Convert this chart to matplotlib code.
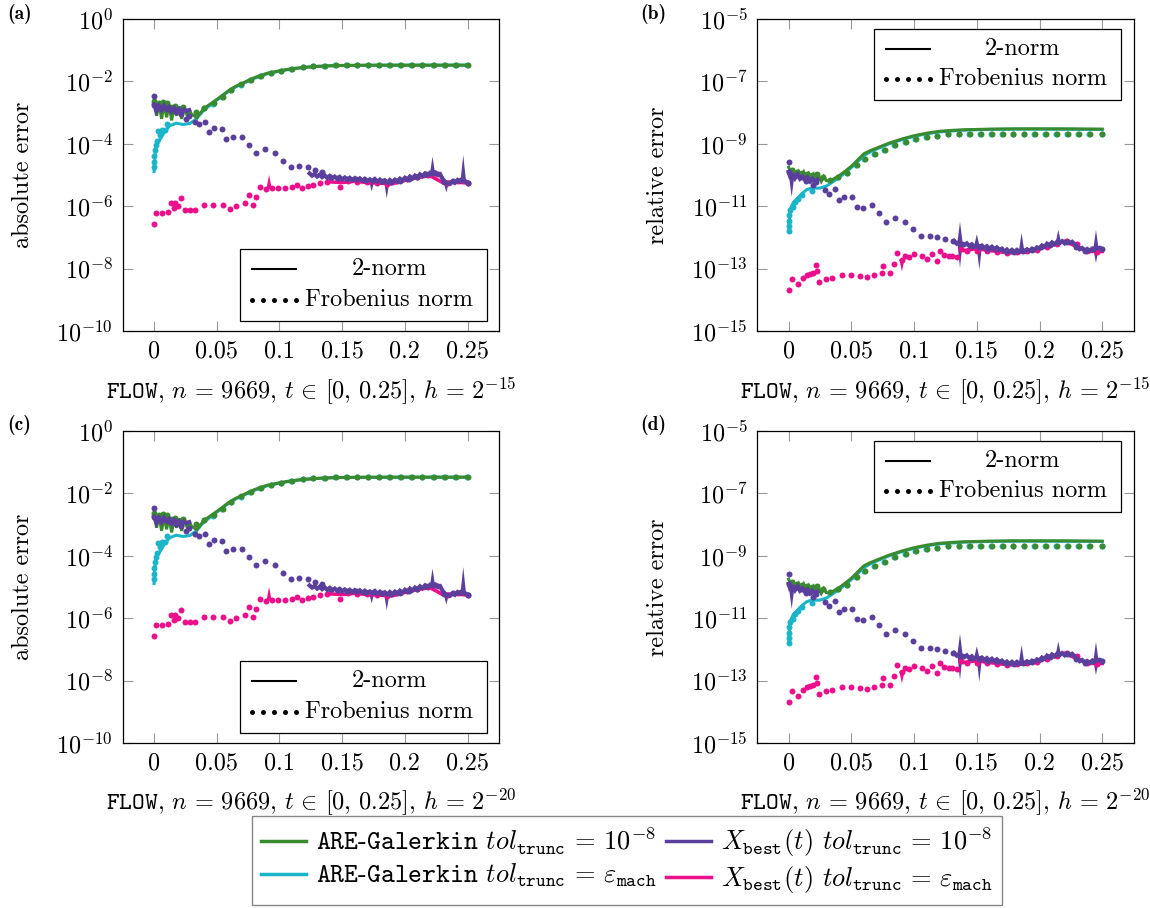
import numpy as np
import matplotlib
matplotlib.use("Agg")
import matplotlib.pyplot as plt
from matplotlib.lines import Line2D
from matplotlib.patches import Rectangle
from matplotlib.ticker import FixedLocator, NullLocator, FuncFormatter

nan = np.nan

# error values are stored as log10 exponents, times in [0, 0.25]

# ---------------- absolute error ----------------
# ARE-Galerkin, tol_trunc = 1e-8
abs_g2_t = [0, 0.002, 0.004, 0.006, 0.008, 0.010, 0.012, 0.014, 0.016, 0.018, 0.020, 0.022,
            0.024, 0.026, 0.028, 0.030, 0.034, 0.04, 0.045, 0.05, 0.055, 0.06, 0.065, 0.07,
            0.075, 0.08, 0.09, 0.1, 0.11, 0.12, 0.13, 0.14, 0.15, 0.17, 0.2, 0.25]
abs_g2 = [-2.65, -3.1, -2.7, -3.2, -2.72, -3.15, -2.75, -3.25, -2.8, -3.1, -2.8, -3.2,
          -2.85, -3.05, -2.95, -3.05, -3.16, -2.86, -2.72, -2.58, -2.43, -2.28, -2.16, -2.07,
          -1.97, -1.88, -1.74, -1.66, -1.59, -1.55, -1.52, -1.5, -1.49, -1.48, -1.48, -1.48]
abs_gF_t = [0, 0.004, 0.0072, 0.0107, 0.0136, 0.0168, 0.0231, 0.0271, 0.0332, 0.0401,
            0.0478, 0.055, 0.0617, 0.0697, 0.0771, 0.0851, 0.0936, 0.1016, 0.110, 0.119,
            0.127, 0.136, 0.145, 0.1535, 0.162, 0.1707, 0.1795, 0.188, 0.1968, 0.2056,
            0.214, 0.223, 0.232, 0.2407, 0.25]
abs_gF = [-2.63, -2.69, -2.66, -2.69, -2.81, -2.79, -2.81, -2.94, -2.97, -2.84,
          -2.69, -2.49, -2.26, -2.09, -1.96, -1.83, -1.72, -1.66, -1.59, -1.55,
          -1.52, -1.50, -1.49, -1.49, -1.48, -1.48, -1.48, -1.48, -1.48, -1.48,
          -1.48, -1.48, -1.48, -1.49, -1.49]

# ARE-Galerkin, tol_trunc = eps_mach
abs_c2_t = [0, 0.0005, 0.001, 0.002, 0.0045, 0.0085, 0.0125, 0.0178, 0.023, 0.0285,
            0.0338, 0.039, 0.045, 0.05, 0.055, 0.06, 0.065, 0.07, 0.08, 0.09,
            0.1, 0.11, 0.12, 0.13, 0.14, 0.15, 0.2, 0.25]
abs_c2 = [-4.89, -4.5, -4.2, -3.99, -3.88, -3.61, -3.42, -3.34, -3.38, -3.35,
          -3.2, -2.95, -2.75, -2.6, -2.45, -2.3, -2.18, -2.08, -1.9, -1.76,
          -1.67, -1.6, -1.55, -1.52, -1.5, -1.49, -1.48, -1.48]
abs_cF_t = [0, 0, 0, 0.0005, 0.0012, 0.002, 0.0032, 0.0045, 0.0061, 0.0085,
            0.0107, 0.0396, 0.0473, 0.0545, 0.0612, 0.0692, 0.0766, 0.0846, 0.0931, 0.1011,
            0.1095, 0.1185, 0.1265, 0.1355, 0.1445, 0.153, 0.1615, 0.1702, 0.179, 0.1875,
            0.1963, 0.2051, 0.2135, 0.2225, 0.2315, 0.2402, 0.2495]
abs_cF = [-4.75, -4.58, -4.4, -4.2, -4.05, -3.92, -3.6, -3.72, -3.55, -3.55,
          -3.38, -2.86, -2.71, -2.51, -2.28, -2.11, -1.97, -1.84, -1.73, -1.67,
          -1.6, -1.55, -1.52, -1.5, -1.49, -1.49, -1.48, -1.48, -1.48, -1.48,
          -1.48, -1.48, -1.48, -1.48, -1.48, -1.49, -1.49]

# X_best(t), tol_trunc = 1e-8 (short burst at the start, noisy tail at the end)
abs_p2_t = [0, 0.002, 0.004, 0.006, 0.008, 0.010, 0.012, 0.014, 0.016, 0.018,
            0.020, 0.022, 0.024, 0.026, 0.028, 0.03,
            0.124, 0.126, 0.128, 0.130, 0.132, 0.134, 0.136, 0.138, 0.140, 0.142,
            0.144, 0.146, 0.148, 0.150, 0.152, 0.154, 0.156, 0.158, 0.160, 0.162,
            0.164, 0.166, 0.168, 0.170, 0.172, 0.174, 0.176, 0.178, 0.180, 0.182,
            0.184, 0.186, 0.188, 0.190, 0.192, 0.194, 0.196, 0.198, 0.200, 0.202,
            0.204, 0.206, 0.208, 0.210, 0.212, 0.214, 0.216, 0.218, 0.220, 0.222,
            0.224, 0.226, 0.228, 0.230, 0.232, 0.234, 0.236, 0.238, 0.240, 0.242,
            0.244, 0.246, 0.248, 0.250]
abs_p2 = [-2.75, -2.95, -2.8, -2.92, -2.78, -2.9, -2.82, -2.95, -2.85, -2.93,
          -2.88, -2.97, -2.9, -2.95, -2.92, nan,
          -4.95, -5.02, -4.97, -5.05, -4.99, -5.07, -5.01, -5.09, -5.03, -5.11,
          -5.05, -5.12, -5.06, -5.14, -5.08, -5.15, -5.09, -5.16, -5.1, -5.17,
          -5.11, -5.18, -5.12, -5.19, -5.14, -5.2, -5.13, -5.21, -5.15, -5.23,
          -5.17, -5.24, -5.16, -5.23, -5.15, -5.21, -5.12, -5.18, -5.09, -5.15,
          -5.05, -5.11, -5.02, -5.08, -4.98, -5.04, -4.95, -5.01, -4.93, -4.98,
          -4.92, -4.99, -4.97, -5.12, -5.22, -5.26, -5.28, -5.2, -5.25, -5.16,
          -5.21, -5.13, -5.2, -5.24]
abs_pF_t = [0, 0, 0.0032, 0.0072, 0.0112, 0.0138, 0.0178, 0.0218, 0.0253, 0.0279,
            0.0324, 0.0359, 0.0407, 0.0439, 0.0479, 0.0545, 0.0577, 0.063, 0.0705, 0.0758,
            0.0809, 0.0888, 0.0968, 0.103, 0.109, 0.1157, 0.1229, 0.128, 0.1335,
            0.14, 0.147, 0.154, 0.161, 0.168, 0.175, 0.182, 0.189, 0.196, 0.203,
            0.21, 0.217, 0.224, 0.231, 0.238, 0.245, 0.25]
abs_pF = [-2.47, -2.76, -2.79, -2.81, -2.87, -2.92, -2.97, -3.03, -3.22, -3.10,
          -3.29, -3.35, -3.29, -3.61, -3.48, -3.54, -3.86, -3.79, -3.77, -4.04,
          -4.29, -4.17, -4.31, -4.54, -4.73, -4.71, -4.73, -4.84, -4.89,
          -5.05, -5.1, -5.12, -5.12, -5.15, -5.17, -5.2, -5.22, -5.18, -5.12,
          -5.05, -4.97, -4.95, -5.22, -5.2, -5.15, -5.25]
# isolated outliers of the 2-norm (time, level of the band, tip)
abs_p_spk_t = [0.1735, 0.1855, 0.222, 0.233, 0.2465]
abs_p_spk_base = [-5.18, -5.22, -4.97, -5.24, -5.16]
abs_p_spk_tip = [-5.53, -5.75, -4.41, -5.56, -4.36]

# X_best(t), tol_trunc = eps_mach
abs_m2_t = [0.14, 0.15, 0.16, 0.17, 0.18, 0.19, 0.20, 0.21, 0.22, 0.23, 0.24, 0.25]
abs_m2 = [-5.22, -5.24, -5.2, -5.24, -5.26, -5.28, -5.17, -5.08, -5.02, -5.24, -5.22, -5.26]
abs_mF_t = [0, 0.0019, 0.0064, 0.0112, 0.0133, 0.0157, 0.0165, 0.0191, 0.0218, 0.0245,
            0.0285, 0.0324, 0.0396, 0.047, 0.055, 0.0603, 0.0657, 0.0723, 0.0758, 0.079,
            0.0816, 0.0848, 0.0896, 0.0944, 0.099, 0.1043, 0.1096, 0.1136, 0.1176, 0.1229,
            0.127, 0.132, 0.1375, 0.148, 0.155, 0.162, 0.17, 0.178, 0.186, 0.194,
            0.202, 0.21, 0.218, 0.226, 0.234, 0.242, 0.25]
abs_mF = [-6.57, -6.23, -6.21, -6.20, -5.91, -6.05, -5.89, -5.99, -5.75, -6.12,
          -6.12, -6.12, -5.97, -5.97, -5.95, -6.10, -5.99, -5.89, -5.64, -5.96,
          -5.72, -5.37, -5.46, -5.42, -5.42, -5.42, -5.37, -5.32, -5.43, -5.35,
          -5.32, -5.27, -5.21, -5.37, -5.2, -5.22, -5.22, -5.25, -5.28, -5.2,
          -5.12, -5.05, -5.0, -4.98, -5.25, -5.2, -5.25]
abs_m_spk_t = [0.0917]
abs_m_spk_base = [-5.44]
abs_m_spk_tip = [-5.0]

# ---------------- relative error ----------------
rel_g2_t = [0, 0.002, 0.004, 0.006, 0.008, 0.010, 0.012, 0.014, 0.016, 0.018, 0.020, 0.022,
            0.024, 0.026, 0.028, 0.030, 0.033, 0.036, 0.04, 0.045, 0.05, 0.055, 0.06, 0.065,
            0.07, 0.08, 0.09, 0.1, 0.11, 0.12, 0.13, 0.14, 0.16, 0.18, 0.2, 0.22, 0.25]
rel_g2 = [-9.75, -9.95, -9.85, -10.0, -9.88, -10.02, -9.9, -10.08, -9.95, -10.1, -9.98, -10.15,
          -10.02, -10.2, -10.05, -10.18, -10.2, -10.12, -10.03, -9.88, -9.72, -9.52, -9.32, -9.22,
          -9.14, -8.98, -8.85, -8.74, -8.66, -8.6, -8.57, -8.55, -8.53, -8.52, -8.52, -8.52, -8.53]
rel_gF_t = [0.0024, 0.0064, 0.0104, 0.0143, 0.0183, 0.0228, 0.0276, 0.033, 0.0396,
            0.0468, 0.0542, 0.0608, 0.0688, 0.0768, 0.0847, 0.0933, 0.1012, 0.110, 0.1185,
            0.1273, 0.136, 0.1445, 0.153, 0.1618, 0.1706, 0.179, 0.1878, 0.1963, 0.2051,
            0.2136, 0.2224, 0.2311, 0.2402, 0.25]
rel_gF = [-9.85, -9.89, -9.92, -9.96, -9.99, -9.96, -10.05, -10.15, -10.05,
          -9.94, -9.69, -9.49, -9.32, -9.19, -9.05, -8.93, -8.85, -8.79, -8.74,
          -8.70, -8.68, -8.68, -8.67, -8.67, -8.67, -8.67, -8.67, -8.67, -8.67,
          -8.68, -8.68, -8.69, -8.69, -8.7]

rel_c2_t = [0, 0.001, 0.0037, 0.0064, 0.0104, 0.0144, 0.0184, 0.025, 0.0303, 0.0343,
            0.0397, 0.045, 0.05, 0.055, 0.06, 0.065, 0.07, 0.08, 0.09, 0.1,
            0.11, 0.12, 0.13, 0.14, 0.16, 0.18, 0.2, 0.25]
rel_c2 = [-11.81, -11.12, -10.88, -10.77, -10.6, -10.47, -10.42, -10.42, -10.35, -10.24,
          -10.1, -9.93, -9.76, -9.57, -9.38, -9.26, -9.17, -9.0, -8.87, -8.76,
          -8.68, -8.62, -8.59, -8.56, -8.54, -8.53, -8.53, -8.54]
rel_cF_t = [0, 0, 0, 0.0005, 0.001, 0.0032, 0.005, 0.0077, 0.0104, 0.0184,
            0.0391, 0.0463, 0.0537, 0.0603, 0.0683, 0.0763, 0.0842, 0.0928, 0.1007, 0.1095,
            0.118, 0.1268, 0.1355, 0.144, 0.1525, 0.1613, 0.1701, 0.1785, 0.1873, 0.1958,
            0.2046, 0.2131, 0.2219, 0.2306, 0.2397, 0.2495]
rel_cF = [-11.81, -11.63, -11.46, -11.28, -11.12, -11.03, -10.85, -10.77, -10.63, -10.51,
          -10.05, -9.94, -9.69, -9.49, -9.32, -9.19, -9.05, -8.93, -8.85, -8.79,
          -8.74, -8.70, -8.68, -8.68, -8.67, -8.67, -8.67, -8.67, -8.67, -8.67,
          -8.67, -8.68, -8.68, -8.69, -8.69, -8.7]

rel_p2_t = [0, 0.0012, 0.0024, 0.0036, 0.005, 0.007, 0.009, 0.011, 0.013, 0.015,
            0.017, 0.019, 0.021, 0.023, 0.025,
            0.132, 0.134, 0.136, 0.138, 0.140, 0.142, 0.144, 0.146, 0.148, 0.150,
            0.152, 0.154, 0.156, 0.158, 0.160, 0.162, 0.164, 0.166, 0.168, 0.170,
            0.172, 0.174, 0.176, 0.178, 0.180, 0.182, 0.184, 0.186, 0.188, 0.190,
            0.192, 0.194, 0.196, 0.198, 0.200, 0.202, 0.204, 0.206, 0.208, 0.210,
            0.212, 0.214, 0.216, 0.218, 0.220, 0.222, 0.224, 0.226, 0.228, 0.230,
            0.232, 0.234, 0.236, 0.238, 0.240, 0.242, 0.244, 0.246, 0.248, 0.250]
rel_p2 = [-9.9, -10.05, -10.02, -10.0, -10.1, -9.98, -10.12, -10.05, -10.15, -10.08,
          -10.2, -10.12, -10.2, -10.15, nan,
          -12.12, -12.2, -12.15, -12.22, -12.25, -12.19, -12.28, -12.22, -12.3, -12.25,
          -12.3, -12.26, -12.34, -12.28, -12.36, -12.3, -12.38, -12.32, -12.4, -12.36,
          -12.45, -12.39, -12.47, -12.4, -12.47, -12.4, -12.46, -12.42, -12.44, -12.38,
          -12.43, -12.36, -12.4, -12.32, -12.36, -12.26, -12.3, -12.2, -12.25, -12.16,
          -12.22, -12.14, -12.18, -12.12, -12.19, -12.12, -12.18, -12.14, -12.22, -12.3,
          -12.38, -12.34, -12.42, -12.37, -12.43, -12.36, -12.4, -12.35, -12.33, -12.37]
rel_pF_t = [0, 0, 0.0064, 0.0104, 0.0138, 0.017, 0.0192, 0.0218, 0.0286, 0.0318,
            0.0372, 0.0404, 0.0444, 0.0505, 0.0542, 0.059, 0.0665, 0.0723, 0.0777, 0.0851,
            0.0929, 0.0995, 0.1056, 0.1123, 0.1184, 0.1248, 0.131,
            0.138, 0.145, 0.152, 0.159, 0.166, 0.173, 0.18, 0.187, 0.194, 0.201,
            0.208, 0.215, 0.222, 0.229, 0.236, 0.243, 0.25]
rel_pF = [-9.57, -9.91, -9.99, -10.05, -10.19, -10.15, -10.31, -10.21, -10.47, -10.60,
          -10.45, -10.79, -10.72, -10.71, -11.03, -11.05, -10.96, -11.22, -11.51, -11.38,
          -11.51, -11.73, -11.95, -11.97, -11.99, -12.04, -12.13,
          -12.2, -12.28, -12.32, -12.36, -12.38, -12.44, -12.46, -12.42, -12.4, -12.32,
          -12.25, -12.15, -12.15, -12.3, -12.42, -12.38, -12.36]
rel_p_spk_t = [0.0024, 0.1366, 0.1366, 0.15, 0.152, 0.1857, 0.215, 0.245, 0.245]
rel_p_spk_base = [-10.05, -12.17, -12.17, -12.27, -12.29, -12.42, -12.17, -12.37, -12.37]
rel_p_spk_tip = [-10.7, -11.5, -12.98, -11.9, -13.04, -11.86, -11.75, -11.76, -12.82]

rel_m2_t = [0.14, 0.15, 0.16, 0.17, 0.18, 0.19, 0.2, 0.21, 0.22, 0.23, 0.24, 0.25]
rel_m2 = [-12.42, -12.36, -12.42, -12.47, -12.5, -12.45, -12.35, -12.25, -12.12, -12.3,
          -12.45, -12.45]
rel_mF_t = [0, 0.0024, 0.0077, 0.0117, 0.0144, 0.017, 0.0197, 0.0218, 0.0229, 0.0245,
            0.0298, 0.0343, 0.0423, 0.0495, 0.057, 0.0623, 0.0682, 0.0743, 0.0756, 0.081,
            0.0836, 0.0863, 0.0903, 0.093, 0.0962, 0.1002, 0.1063, 0.1103, 0.1143, 0.1183,
            0.1204, 0.1242, 0.1276, 0.1303, 0.1343, 0.137, 0.1423, 0.15, 0.158, 0.166,
            0.174, 0.182, 0.19, 0.198, 0.206, 0.214, 0.222, 0.23, 0.238, 0.246]
rel_mF = [-13.68, -13.34, -13.49, -13.31, -13.20, -13.18, -13.15, -12.90, -13.09, -13.43,
          -13.34, -13.30, -13.20, -13.20, -13.25, -13.27, -13.20, -13.15, -12.93, -13.15,
          -12.85, -12.50, -12.72, -12.61, -12.63, -12.53, -12.59, -12.70, -12.53, -12.77,
          -12.45, -12.56, -12.61, -12.61, -12.63, -12.38, -12.45, -12.42, -12.45, -12.48,
          -12.5, -12.47, -12.44, -12.4, -12.3, -12.22, -12.12, -12.2, -12.45, -12.48]
rel_m_spk_t = [0.0903]
rel_m_spk_base = [-12.7]
rel_m_spk_tip = [-13.09]

x_ticks = [0, 0.05, 0.1, 0.15, 0.2, 0.25]
step_exps = [15, 15, 20, 20]

GREEN = "#3a8a30"
CYAN = "#1ab5c9"
PURPLE = "#5b3f9d"
MAGENTA = "#ec0f8c"

plt.rcParams["font.family"] = "serif"
plt.rcParams["font.serif"] = ["cmr10"]
plt.rcParams["mathtext.fontset"] = "cm"
plt.rcParams["axes.unicode_minus"] = False
plt.rcParams["font.size"] = 17.4

no_spk = ([], [], [])
# (2-norm times, 2-norm, Frobenius times, Frobenius, outliers, colour, line width)
abs_curves = [
    (abs_c2_t, abs_c2, abs_cF_t, abs_cF, no_spk, CYAN, 2.2),
    (abs_g2_t, abs_g2, abs_gF_t, abs_gF, no_spk, GREEN, 2.2),
    (abs_m2_t, abs_m2, abs_mF_t, abs_mF,
     (abs_m_spk_t, abs_m_spk_base, abs_m_spk_tip), MAGENTA, 2.6),
    (abs_p2_t, abs_p2, abs_pF_t, abs_pF,
     (abs_p_spk_t, abs_p_spk_base, abs_p_spk_tip), PURPLE, 3.0),
]
rel_curves = [
    (rel_c2_t, rel_c2, rel_cF_t, rel_cF, no_spk, CYAN, 2.2),
    (rel_g2_t, rel_g2, rel_gF_t, rel_gF, no_spk, GREEN, 2.2),
    (rel_m2_t, rel_m2, rel_mF_t, rel_mF,
     (rel_m_spk_t, rel_m_spk_base, rel_m_spk_tip), MAGENTA, 2.6),
    (rel_p2_t, rel_p2, rel_pF_t, rel_pF,
     (rel_p_spk_t, rel_p_spk_base, rel_p_spk_tip), PURPLE, 3.0),
]


def norm_key(ax, x0, y0, w, h):
    # small box explaining the line styles
    ax.add_patch(Rectangle((x0, y0), w, h, transform=ax.transAxes, facecolor="white",
                           edgecolor="black", lw=0.9, zorder=10))
    hx = [x0 + 0.032, x0 + 0.149]
    r1 = y0 + 0.72 * h
    r2 = y0 + 0.29 * h
    ax.plot(hx, [r1, r1], color="black", lw=1.5, transform=ax.transAxes, zorder=11)
    ax.plot(np.linspace(hx[0], hx[1], 5), [r2] * 5, ls="none", marker="o", ms=3.6, mew=0,
            color="black", transform=ax.transAxes, zorder=11)
    ax.text(x0 + 0.396, r1, "2-norm", transform=ax.transAxes, ha="center", va="center",
            fontsize=17.5, zorder=11)
    ax.text(x0 + 0.396, r2, "Frobenius norm", transform=ax.transAxes, ha="center",
            va="center", fontsize=17.5, zorder=11)


def draw_panel(ax, curves, lo, hi, ylabel, hexp):
    for t2, e2, tF, eF, spk, col, lw in curves:
        ax.plot(tF, 10.0 ** np.asarray(eF), ls="none", marker="o", ms=4.3, mew=0, color=col)
        ax.plot(t2, 10.0 ** np.asarray(e2), lw=lw, color=col, solid_joinstyle="miter")
        # narrow wedges for single-step outliers
        for ts, b, tip in zip(*spk):
            ax.fill([ts - 0.0021, ts, ts + 0.0021], [10.0 ** b, 10.0 ** tip, 10.0 ** b],
                    color=col, lw=0)
    ax.set_yscale("log")
    ax.set_ylim(10.0 ** lo, 10.0 ** hi)
    ax.set_xlim(-0.025, 0.275)
    ax.yaxis.set_major_locator(FixedLocator([10.0 ** k for k in range(lo, hi + 1, 2)]))
    ax.yaxis.set_minor_locator(NullLocator())
    ax.yaxis.set_major_formatter(FuncFormatter(
        lambda v, _: r"$10^{%d}$" % int(round(np.log10(v)))))
    ax.set_xticks(x_ticks)
    ax.xaxis.set_major_formatter(FuncFormatter(lambda v, _: "%g" % v))
    ax.tick_params(direction="in", length=7, width=0.8, color="#999999",
                   top=True, right=True, labelsize=17.4)
    ax.tick_params(axis="x", pad=7)
    ax.tick_params(axis="y", pad=7)
    for s in ax.spines.values():
        s.set_linewidth(0.9)
    ax.set_ylabel(ylabel, fontsize=17.4)
    ax.yaxis.set_label_coords(-0.235, 0.5)
    ax.set_xlabel(r"$\mathtt{FLOW}$, $n\,=\,9669$, $t\,\in\,[0,\,0.25]$, $h\,=\,2^{-%d}$" % hexp,
                  fontsize=17.5)
    ax.xaxis.set_label_coords(0.5, -0.142)


fig = plt.figure(figsize=(11.5, 9.08), dpi=100)
W, H = 1150.0, 908.0
lefts = [122.7 / W, 757.3 / W]
bottoms = [1 - 331.0 / H, 1 - 743.0 / H]
aw, ah = 376.3 / W, 312.0 / H

panels = []
for r in range(2):
    for c in range(2):
        panels.append(fig.add_axes([lefts[c], bottoms[r], aw, ah]))

for i, ax in enumerate(panels):
    if i % 2 == 0:
        draw_panel(ax, abs_curves, -10, 0, "absolute error", step_exps[i])
        norm_key(ax, 0.312, 0.032, 0.656, 0.231)
    else:
        draw_panel(ax, rel_curves, -15, -5, "relative error", step_exps[i])
        norm_key(ax, 0.31, 0.741, 0.656, 0.228)

for lab, (px, py) in zip(["(a)", "(b)", "(c)", "(d)"],
                         [(7, 14), (640, 14), (7, 425), (640, 425)]):
    fig.text(px / W, 1 - py / H, lab, family="cmb10", fontsize=14, va="center", ha="left")

handles = [Line2D([], [], color=GREEN, lw=2.5),
           Line2D([], [], color=CYAN, lw=2.5),
           Line2D([], [], color=PURPLE, lw=2.5),
           Line2D([], [], color=MAGENTA, lw=2.5)]
labels = [r"$\mathtt{ARE}$-$\mathtt{Galerkin}$ $tol_{\mathtt{trunc}}\,=\,10^{-8}$",
          r"$\mathtt{ARE}$-$\mathtt{Galerkin}$ $tol_{\mathtt{trunc}}\,=\,\varepsilon_{\mathtt{mach}}$",
          r"$X_{\mathtt{best}}(t)$ $tol_{\mathtt{trunc}}\,=\,10^{-8}$",
          r"$X_{\mathtt{best}}(t)$ $tol_{\mathtt{trunc}}\,=\,\varepsilon_{\mathtt{mach}}$"]
leg = fig.legend(handles, labels, ncol=2, loc="center", bbox_to_anchor=(0.5452, 0.0523),
                 frameon=True, fancybox=False, edgecolor="#666666", fontsize=19,
                 handlelength=1.7, handletextpad=0.38, columnspacing=0.34,
                 borderpad=0.35, labelspacing=0.2)
leg.get_frame().set_linewidth(1.0)

fig.savefig("out.png", dpi=100)
